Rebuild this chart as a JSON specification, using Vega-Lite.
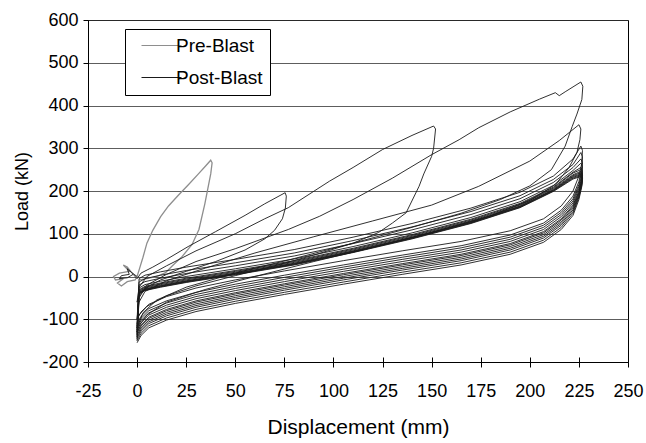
{
"$schema": "https://vega.github.io/schema/vega-lite/v6.json",
"width": 540, "height": 342,
"autosize": {"type": "none"},
"padding": {"left": 88, "top": 20, "right": 18, "bottom": 81},
"background": "white",
"config": {"font": "Liberation Sans", "view": {"stroke": "#000", "strokeWidth": 1}},
"datasets": {
"pre": [
{"x":-2,"y":5},{"x":-5,"y":22},{"x":-7,"y":27},{"x":-4,"y":12},{"x":-9,"y":8},{"x":-12,"y":0},{"x":-11,"y":-8},{"x":-7,"y":-5},{"x":-10,"y":-15},{"x":-8,"y":-22},{"x":-5,"y":-12},{"x":-1,"y":-8},{"x":0,"y":0},
{"x":1,"y":15},{"x":3,"y":45},{"x":5,"y":78},{"x":8,"y":108},{"x":12,"y":140},{"x":16,"y":165},{"x":21,"y":190},{"x":26,"y":214},{"x":31,"y":239},{"x":35,"y":259},{"x":37.5,"y":272},
{"x":38.2,"y":266},{"x":37.5,"y":240},{"x":36,"y":205},{"x":34.5,"y":170},{"x":31.5,"y":110},{"x":28,"y":75},{"x":23,"y":47},{"x":18,"y":25},{"x":14.5,"y":9},{"x":10,"y":0},{"x":5,"y":-5},{"x":1,"y":-8}
],
"post": [
{"x":0,"y":0},{"x":-3,"y":10},{"x":-5,"y":18},{"x":-4,"y":5},{"x":-8,"y":2},{"x":-9,"y":-5},{"x":-5,"y":-3},{"x":-2,"y":5},{"x":0,"y":-5},{"x":2,"y":8},
{"x":8,"y":22},{"x":15,"y":40},{"x":26,"y":70},{"x":40,"y":105},{"x":55,"y":143},{"x":65,"y":170},{"x":75.4,"y":196},
{"x":76,"y":188},{"x":75.5,"y":160},{"x":74,"y":135},{"x":70,"y":108},{"x":65,"y":88},{"x":55,"y":62},{"x":40,"y":35},{"x":25,"y":12},{"x":12,"y":-8},{"x":5,"y":-25},{"x":1,"y":-45},{"x":0,"y":-60},
{"x":1,"y":-25},{"x":5,"y":0},{"x":15,"y":25},{"x":30,"y":60},{"x":50,"y":100},{"x":65,"y":135},{"x":77,"y":161},{"x":98,"y":223},{"x":110,"y":255},{"x":125,"y":297},{"x":140,"y":330},{"x":151,"y":352},
{"x":152,"y":345},{"x":151,"y":300},{"x":150,"y":281},{"x":146,"y":240},{"x":143.6,"y":211},{"x":137,"y":149},{"x":130,"y":125},{"x":123,"y":103},{"x":110,"y":78},{"x":90,"y":50},{"x":70,"y":25},{"x":50,"y":2},{"x":30,"y":-22},{"x":15,"y":-45},{"x":5,"y":-70},{"x":1,"y":-90},{"x":0,"y":-100},
{"x":1,"y":-50},{"x":5,"y":-20},{"x":15,"y":5},{"x":30,"y":35},{"x":50,"y":65},{"x":77,"y":110},{"x":93,"y":141},{"x":110,"y":180},{"x":130,"y":230},{"x":150,"y":285},{"x":164,"y":320},{"x":174,"y":348},{"x":190,"y":385},{"x":205,"y":415},{"x":213,"y":430},{"x":215,"y":423},{"x":218,"y":432},{"x":226,"y":455},
{"x":227,"y":445},{"x":226.5,"y":414},{"x":224,"y":380},{"x":221.6,"y":351},{"x":218,"y":305},{"x":211,"y":250},{"x":200,"y":212},{"x":185,"y":180},{"x":165,"y":148},{"x":140,"y":115},{"x":110,"y":78},{"x":80,"y":42},{"x":50,"y":8},{"x":25,"y":-25},{"x":10,"y":-55},{"x":3,"y":-85},{"x":0,"y":-120},
{"x":1,"y":-60},{"x":4,"y":-35},{"x":15,"y":-10},{"x":35,"y":20},{"x":60,"y":55},{"x":90,"y":93},{"x":120,"y":130},{"x":150,"y":167},{"x":174,"y":211},{"x":200,"y":270},{"x":215,"y":318},{"x":225,"y":355},
{"x":226,"y":345},{"x":225.5,"y":320},{"x":224,"y":290},{"x":220,"y":255},{"x":213,"y":215},{"x":200,"y":178},{"x":180,"y":142},{"x":150,"y":103},{"x":120,"y":68},{"x":90,"y":35},{"x":60,"y":0},{"x":35,"y":-30},{"x":15,"y":-60},{"x":5,"y":-90},{"x":1,"y":-115},{"x":0,"y":-130},
{"x":1,"y":-5},{"x":4,"y":3},{"x":12,"y":11},{"x":25,"y":22},{"x":50,"y":40},{"x":80,"y":63},{"x":110,"y":92},{"x":140,"y":124},{"x":170,"y":160},{"x":195,"y":197},{"x":212,"y":235},{"x":222,"y":275},{"x":226,"y":305},
{"x":226.8,"y":295},{"x":226.5,"y":265},{"x":225,"y":235},{"x":222,"y":200},{"x":216,"y":165},{"x":207,"y":135},{"x":190,"y":107},{"x":165,"y":82},{"x":135,"y":60},{"x":105,"y":37},{"x":75,"y":13},{"x":50,"y":-8},{"x":30,"y":-27},{"x":15,"y":-47},{"x":6,"y":-65},{"x":2,"y":-83},{"x":0,"y":-100},
{"x":1,"y":-13},{"x":4,"y":-5},{"x":12,"y":3},{"x":25,"y":14},{"x":50,"y":32},{"x":80,"y":55},{"x":110,"y":84},{"x":140,"y":116},{"x":170,"y":152},{"x":195,"y":189},{"x":212,"y":227},{"x":222,"y":262},{"x":226,"y":290},
{"x":226.8,"y":280},{"x":226.5,"y":255},{"x":225,"y":222},{"x":222,"y":188},{"x":216,"y":155},{"x":207,"y":125},{"x":190,"y":97},{"x":165,"y":72},{"x":135,"y":50},{"x":105,"y":27},{"x":75,"y":3},{"x":50,"y":-18},{"x":30,"y":-37},{"x":15,"y":-57},{"x":6,"y":-75},{"x":2,"y":-93},{"x":0,"y":-110},
{"x":1,"y":-20},{"x":4,"y":-12},{"x":12,"y":-4},{"x":25,"y":7},{"x":50,"y":25},{"x":80,"y":48},{"x":110,"y":77},{"x":140,"y":109},{"x":170,"y":145},{"x":195,"y":182},{"x":212,"y":220},{"x":222,"y":255},{"x":226,"y":275},
{"x":226.8,"y":266},{"x":226.5,"y":245},{"x":225,"y":215},{"x":222,"y":182},{"x":216,"y":150},{"x":207,"y":120},{"x":190,"y":92},{"x":165,"y":67},{"x":135,"y":45},{"x":105,"y":22},{"x":75,"y":-2},{"x":50,"y":-23},{"x":30,"y":-42},{"x":15,"y":-62},{"x":6,"y":-80},{"x":2,"y":-98},{"x":0,"y":-115},
{"x":1,"y":-27},{"x":4,"y":-19},{"x":12,"y":-11},{"x":25,"y":0},{"x":50,"y":18},{"x":80,"y":41},{"x":110,"y":70},{"x":140,"y":102},{"x":170,"y":138},{"x":195,"y":175},{"x":212,"y":213},{"x":222,"y":248},{"x":226,"y":265},
{"x":226.8,"y":257},{"x":226.5,"y":238},{"x":225,"y":210},{"x":222,"y":177},{"x":216,"y":145},{"x":207,"y":115},{"x":190,"y":87},{"x":165,"y":62},{"x":135,"y":40},{"x":105,"y":17},{"x":75,"y":-7},{"x":50,"y":-28},{"x":30,"y":-47},{"x":15,"y":-67},{"x":6,"y":-85},{"x":2,"y":-103},{"x":0,"y":-120},
{"x":1,"y":-31},{"x":4,"y":-23},{"x":12,"y":-15},{"x":25,"y":-4},{"x":50,"y":14},{"x":80,"y":37},{"x":110,"y":66},{"x":140,"y":98},{"x":170,"y":134},{"x":195,"y":171},{"x":212,"y":209},{"x":222,"y":244},{"x":226,"y":255},
{"x":226.8,"y":248},{"x":226.5,"y":232},{"x":225,"y":205},{"x":222,"y":172},{"x":216,"y":140},{"x":207,"y":110},{"x":190,"y":82},{"x":165,"y":57},{"x":135,"y":35},{"x":105,"y":12},{"x":75,"y":-12},{"x":50,"y":-33},{"x":30,"y":-52},{"x":15,"y":-72},{"x":6,"y":-90},{"x":2,"y":-108},{"x":0,"y":-125},
{"x":1,"y":-33},{"x":4,"y":-25},{"x":12,"y":-17},{"x":25,"y":-6},{"x":50,"y":12},{"x":80,"y":35},{"x":110,"y":64},{"x":140,"y":96},{"x":170,"y":132},{"x":195,"y":169},{"x":212,"y":207},{"x":222,"y":242},{"x":226,"y":250},
{"x":226.8,"y":243},{"x":226.5,"y":228},{"x":225,"y":200},{"x":222,"y":167},{"x":216,"y":135},{"x":207,"y":105},{"x":190,"y":77},{"x":165,"y":52},{"x":135,"y":30},{"x":105,"y":7},{"x":75,"y":-17},{"x":50,"y":-38},{"x":30,"y":-57},{"x":15,"y":-77},{"x":6,"y":-95},{"x":2,"y":-113},{"x":0,"y":-130},
{"x":1,"y":-35},{"x":4,"y":-27},{"x":12,"y":-19},{"x":25,"y":-8},{"x":50,"y":10},{"x":80,"y":33},{"x":110,"y":62},{"x":140,"y":94},{"x":170,"y":130},{"x":195,"y":167},{"x":212,"y":205},{"x":222,"y":238},{"x":226,"y":246},
{"x":226.8,"y":240},{"x":226.5,"y":225},{"x":225,"y":197},{"x":222,"y":164},{"x":216,"y":132},{"x":207,"y":102},{"x":190,"y":74},{"x":165,"y":49},{"x":135,"y":27},{"x":105,"y":4},{"x":75,"y":-20},{"x":50,"y":-41},{"x":30,"y":-60},{"x":15,"y":-80},{"x":6,"y":-98},{"x":2,"y":-116},{"x":0,"y":-133},
{"x":1,"y":-37},{"x":4,"y":-29},{"x":12,"y":-21},{"x":25,"y":-10},{"x":50,"y":8},{"x":80,"y":31},{"x":110,"y":60},{"x":140,"y":92},{"x":170,"y":128},{"x":195,"y":165},{"x":212,"y":203},{"x":222,"y":236},{"x":226,"y":243},
{"x":226.8,"y":237},{"x":226.5,"y":222},{"x":225,"y":194},{"x":222,"y":160},{"x":216,"y":128},{"x":207,"y":98},{"x":190,"y":70},{"x":165,"y":45},{"x":135,"y":23},{"x":105,"y":0},{"x":75,"y":-24},{"x":50,"y":-45},{"x":30,"y":-64},{"x":15,"y":-84},{"x":6,"y":-102},{"x":2,"y":-120},{"x":0,"y":-137},
{"x":1,"y":-38},{"x":4,"y":-30},{"x":12,"y":-22},{"x":25,"y":-11},{"x":50,"y":7},{"x":80,"y":30},{"x":110,"y":59},{"x":140,"y":91},{"x":170,"y":127},{"x":195,"y":164},{"x":212,"y":202},{"x":222,"y":234},{"x":226,"y":240},
{"x":226.8,"y":234},{"x":226.5,"y":219},{"x":225,"y":191},{"x":222,"y":156},{"x":216,"y":124},{"x":207,"y":94},{"x":190,"y":66},{"x":165,"y":41},{"x":135,"y":19},{"x":105,"y":-4},{"x":75,"y":-28},{"x":50,"y":-49},{"x":30,"y":-68},{"x":15,"y":-88},{"x":6,"y":-106},{"x":2,"y":-124},{"x":0,"y":-141},
{"x":1,"y":-39},{"x":4,"y":-31},{"x":12,"y":-23},{"x":25,"y":-12},{"x":50,"y":6},{"x":80,"y":29},{"x":110,"y":58},{"x":140,"y":90},{"x":170,"y":126},{"x":195,"y":163},{"x":212,"y":201},{"x":222,"y":232},{"x":226,"y":238},
{"x":226.8,"y":232},{"x":226.5,"y":217},{"x":225,"y":188},{"x":222,"y":152},{"x":216,"y":120},{"x":207,"y":90},{"x":190,"y":62},{"x":165,"y":37},{"x":135,"y":15},{"x":105,"y":-8},{"x":75,"y":-32},{"x":50,"y":-53},{"x":30,"y":-72},{"x":15,"y":-92},{"x":6,"y":-110},{"x":2,"y":-128},{"x":0,"y":-145},
{"x":1,"y":-40},{"x":4,"y":-32},{"x":12,"y":-24},{"x":25,"y":-13},{"x":50,"y":5},{"x":80,"y":28},{"x":110,"y":57},{"x":140,"y":89},{"x":170,"y":125},{"x":195,"y":162},{"x":212,"y":200},{"x":222,"y":230},{"x":226,"y":236},
{"x":226.8,"y":230},{"x":226.5,"y":214},{"x":225,"y":185},{"x":222,"y":148},{"x":216,"y":115},{"x":207,"y":85},{"x":190,"y":57},{"x":165,"y":32},{"x":135,"y":10},{"x":105,"y":-13},{"x":75,"y":-37},{"x":50,"y":-58},{"x":30,"y":-77},{"x":15,"y":-97},{"x":6,"y":-115},{"x":2,"y":-133},{"x":0,"y":-150},
{"x":1,"y":-41},{"x":4,"y":-33},{"x":12,"y":-25},{"x":25,"y":-14},{"x":50,"y":4},{"x":80,"y":27},{"x":110,"y":56},{"x":140,"y":88},{"x":170,"y":124},{"x":195,"y":161},{"x":212,"y":199},{"x":222,"y":228},{"x":226,"y":234},
{"x":226.8,"y":228},{"x":226.5,"y":211},{"x":225,"y":180},{"x":222,"y":143},{"x":216,"y":110},{"x":207,"y":80},{"x":190,"y":52},{"x":165,"y":27},{"x":135,"y":5},{"x":105,"y":-18},{"x":75,"y":-42},{"x":50,"y":-63},{"x":30,"y":-82},{"x":15,"y":-102},{"x":6,"y":-120},{"x":2,"y":-138},{"x":0,"y":-155}
]
},
"layer": [
{
"data": {"name": "pre"},
"mark": {"type": "line", "strokeWidth": 1.3, "clip": true},
"encoding": {
"x": {"field": "x", "type": "quantitative", "scale": {"domain": [-25, 250], "nice": false, "zero": false},
"axis": {"title": "Displacement (mm)", "values": [-25, -12.5, 0, 12.5, 25, 37.5, 50, 62.5, 75, 87.5, 100, 112.5, 125, 137.5, 150, 162.5, 175, 187.5, 200, 212.5, 225, 237.5, 250],
"labelExpr": "datum.value % 25 === 0 ? replace(datum.label, '\u2212', '-') : ''",
"tickSize": 5,
"tickColor": {"condition": {"test": "datum.value % 25 === 0", "value": "#000"}, "value": "rgba(0,0,0,0)"},
"grid": true, "gridColor": "#000", "gridOpacity": 1, "gridWidth": 1, "gridDash": [0, 337, 5, 1000],
"domainColor": "#000", "labelFontSize": 18, "labelColor": "#000", "labelPadding": 15, "labelFlush": false, "labelOverlap": false, "titleFontSize": 21, "titleFontWeight": "normal", "titleColor": "#000", "titlePadding": 16}},
"y": {"field": "y", "type": "quantitative", "scale": {"domain": [-200, 600], "nice": false, "zero": false},
"axis": {"title": "Load (kN)", "values": [-200, -100, 0, 100, 200, 300, 400, 500, 600], "labelExpr": "replace(datum.label, '\u2212', '-')", "grid": true, "gridColor": "#333", "gridWidth": 0.8, "domainColor": "#000", "tickColor": "#000", "tickSize": 5, "labelFontSize": 18, "labelColor": "#000", "labelPadding": 5, "labelFlush": false, "titleFontSize": 18, "titleFontWeight": "normal", "titleColor": "#000", "titlePadding": 10}},
"color": {"datum": "Pre-Blast", "type": "nominal",
"scale": {"domain": ["Pre-Blast", "Post-Blast"], "range": ["#8e8e8e", "#1a1a1a"]},
"legend": {"orient": "none", "legendX": 37, "legendY": 9, "title": null, "strokeColor": "#000", "fillColor": "#fff", "padding": 7, "symbolType": "M0,0H40", "symbolSize": 4, "symbolStrokeWidth": 1, "labelFontSize": 19, "labelColor": "#000", "rowPadding": 12, "labelOffset": 25}},
"order": {"value": null}
}
},
{
"data": {"name": "post"},
"mark": {"type": "line", "strokeWidth": 0.9, "clip": true},
"encoding": {
"x": {"field": "x", "type": "quantitative"},
"y": {"field": "y", "type": "quantitative"},
"color": {"datum": "Post-Blast", "type": "nominal"},
"order": {"value": null}
}
}
]
}
